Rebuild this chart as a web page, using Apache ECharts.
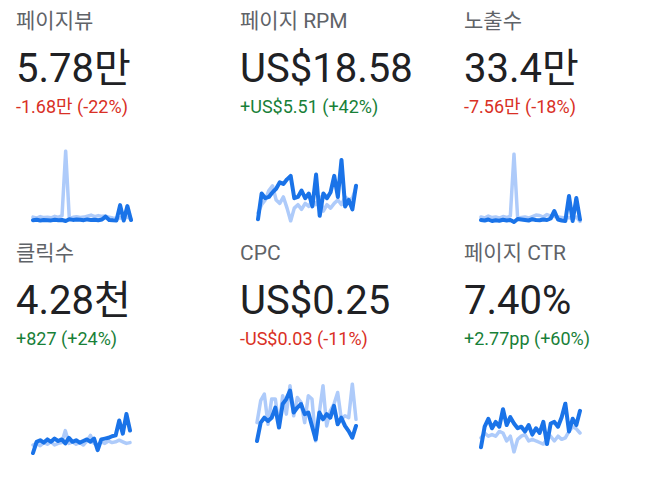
<!DOCTYPE html>
<html>
<head>
<meta charset="utf-8">
<title>실적 요약</title>
<script src="https://cdn.jsdelivr.net/npm/echarts@6/dist/echarts.min.js"></script>
<style>
	html, body { margin: 0; padding: 0; background: #fff; }
	#main { width: 664px; height: 499px; }
</style>
</head>
<body>
<div id="main"></div>
<script>
// 날짜 (28일)
var days = ['1일', '2일', '3일', '4일', '5일', '6일', '7일', '8일', '9일', '10일', '11일', '12일', '13일', '14일',
	'15일', '16일', '17일', '18일', '19일', '20일', '21일', '22일', '23일', '24일', '25일', '26일', '27일', '28일'];

var titles = ['페이지뷰', '페이지 RPM', '노출수', '클릭수', 'CPC', '페이지 CTR'];
var totals = ['5.78만', 'US$18.58', '33.4만', '4.28천', 'US$0.25', '7.40%'];
var changes = ['-1.68만 (-22%)', '+US$5.51 (+42%)', '-7.56만 (-18%)', '+827 (+24%)', '-US$0.03 (-11%)', '+2.77pp (+60%)'];
var trends = ['down', 'up', 'down', 'up', 'down', 'up'];

// 이번 기간 / 이전 기간
var pageviewsNow = [1700, 1900, 1600, 1800, 1750, 1650, 1900, 1700, 1800, 1400, 2100, 1850, 2000, 1900,
	1750, 2050, 1800, 1950, 1700, 2000, 3200, 1800, 1700, 1650, 7900, 1600, 7500, 1800];
var pageviewsPrev = [3000, 2600, 3200, 2800, 2900, 2700, 3300, 2900, 3600, 30000, 2500, 2900, 3100, 2800,
	3000, 3400, 3800, 3200, 3600, 3300, 3400, 2900, 2600, 2500, 2700, 2400, 3000, 2200];

var rpmNow = [12.2, 18.2, 17.1, 17.4, 18.5, 19.3, 20.8, 20.4, 21.5, 22.3, 17.1, 17.4, 18.9, 17.1,
	18.2, 15.2, 22.6, 13.0, 18.2, 17.1, 18.5, 22.3, 17.4, 26.0, 15.2, 16.7, 14.5, 20.0];
var rpmPrev = [13.7, 15.6, 16.7, 18.9, 20.0, 16.7, 15.9, 17.4, 14.8, 11.8, 14.8, 15.6, 14.5, 15.9,
	15.2, 16.7, 15.6, 17.4, 14.1, 15.6, 14.8, 15.9, 16.7, 15.6, 17.4, 16.7, 17.1, 19.6];

var impressionsNow = [9000, 8500, 9500, 8000, 8800, 8200, 9200, 8500, 9000, 7000, 10000, 9500, 9000, 8500,
	9800, 9000, 8800, 9500, 9000, 10500, 18000, 9500, 8500, 8000, 33000, 8000, 31000, 9500];
var impressionsPrev = [12000, 11000, 13000, 11500, 12000, 11000, 12500, 11500, 13000, 75000, 10500, 11500, 12000, 11000,
	12500, 14000, 13500, 12000, 14500, 13000, 12500, 12000, 11500, 11000, 11500, 10000, 12000, 7500];

var clicksNow = [80, 150, 160, 145, 165, 150, 170, 155, 165, 140, 175, 150, 160, 145,
	155, 165, 150, 170, 98, 165, 170, 175, 185, 190, 283, 201, 324, 221];
var clicksPrev = [130, 140, 125, 145, 135, 150, 130, 140, 145, 220, 140, 150, 135, 145,
	130, 155, 190, 140, 130, 150, 140, 155, 145, 150, 160, 150, 140, 145];

var cpcNow = [0.174, 0.241, 0.259, 0.247, 0.259, 0.296, 0.223, 0.309, 0.327, 0.358, 0.278, 0.296, 0.309, 0.272,
	0.278, 0.229, 0.180, 0.278, 0.253, 0.272, 0.259, 0.302, 0.235, 0.259, 0.229, 0.210, 0.186, 0.229];
var cpcPrev = [0.241, 0.321, 0.345, 0.235, 0.327, 0.327, 0.229, 0.339, 0.272, 0.376, 0.266, 0.333, 0.315, 0.241,
	0.339, 0.327, 0.174, 0.278, 0.376, 0.229, 0.284, 0.309, 0.351, 0.253, 0.266, 0.259, 0.382, 0.253];

var ctrNow = [3.15, 6.93, 8.39, 6.64, 7.81, 6.93, 10.14, 7.23, 8.68, 7.52, 6.64, 6.93, 6.06, 7.23,
	5.48, 6.64, 5.77, 7.81, 3.73, 7.52, 7.81, 6.93, 8.68, 11.2, 6.06, 8.39, 7.23, 9.85];
var ctrPrev = [4.89, 5.77, 5.18, 5.48, 5.18, 6.06, 5.77, 4.30, 5.18, 2.27, 4.60, 5.18, 5.48, 4.30,
	4.60, 4.30, 4.02, 3.73, 4.60, 5.18, 4.30, 5.18, 4.60, 4.89, 6.06, 6.93, 6.53, 5.77];

var nowSeries = [pageviewsNow, rpmNow, impressionsNow, clicksNow, cpcNow, ctrNow];
var prevSeries = [pageviewsPrev, rpmPrev, impressionsPrev, clicksPrev, cpcPrev, ctrPrev];

var COLOR = {
	title: '#5f6368',
	value: '#202124',
	up: '#188038',
	down: '#d93025',
	now: '#1a73e8',
	prev: '#aecbfa'
};
var FONT = 'Roboto, "Noto Sans CJK KR", sans-serif';

// 카드 위치: 텍스트 좌측, 행 오프셋, 스파크라인 영역
var cells = [
	{ x: 16,  row: 0,   spark: [33, 151, 98, 70] },
	{ x: 240, row: 0,   spark: [258, 160, 98, 61] },
	{ x: 464, row: 0,   spark: [481, 154, 99, 68] },
	{ x: 16,  row: 232, spark: [33, 414, 97, 39] },
	{ x: 240, row: 232, spark: [257, 384, 99, 57] },
	{ x: 464, row: 232, spark: [481, 403.5, 99, 48.5] }
];

function textEl(x, y, text, size, color) {
	return {
		type: 'text',
		left: x,
		top: y,
		silent: true,
		style: {
			text: text,
			fill: color,
			fontSize: size,
			fontFamily: FONT
		}
	};
}

var grids = [], xAxes = [], yAxes = [], series = [], graphics = [];

cells.forEach(function(c, i) {
	var s = c.spark;

	graphics.push(textEl(c.x, c.row + 10.6, titles[i], 21, COLOR.title));
	graphics.push(textEl(c.x, c.row + 48, totals[i], 40, COLOR.value));
	graphics.push(textEl(c.x, c.row + 97, changes[i], 18, trends[i] == 'up' ? COLOR.up : COLOR.down));

	grids.push({ left: s[0], top: s[1], width: s[2], height: s[3] });
	xAxes.push({ type: 'category', gridIndex: i, data: days, show: false, boundaryGap: false });
	yAxes.push({ type: 'value', gridIndex: i, show: false, scale: true, min: 'dataMin', max: 'dataMax' });

	series.push({
		type: 'line', xAxisIndex: i, yAxisIndex: i, data: prevSeries[i],
		symbol: 'none', z: 1, silent: true,
		lineStyle: { color: COLOR.prev, width: 3.5, join: 'round', cap: 'round' }
	});
	series.push({
		type: 'line', xAxisIndex: i, yAxisIndex: i, data: nowSeries[i],
		symbol: 'none', z: 2, silent: true,
		lineStyle: { color: COLOR.now, width: 4, join: 'round', cap: 'round' }
	});
});

var chart = echarts.init(document.getElementById('main'), null, { renderer: 'svg' });
chart.setOption({
	animation: false,
	backgroundColor: '#fff',
	grid: grids,
	xAxis: xAxes,
	yAxis: yAxes,
	series: series,
	graphic: graphics
});
</script>
</body>
</html>
